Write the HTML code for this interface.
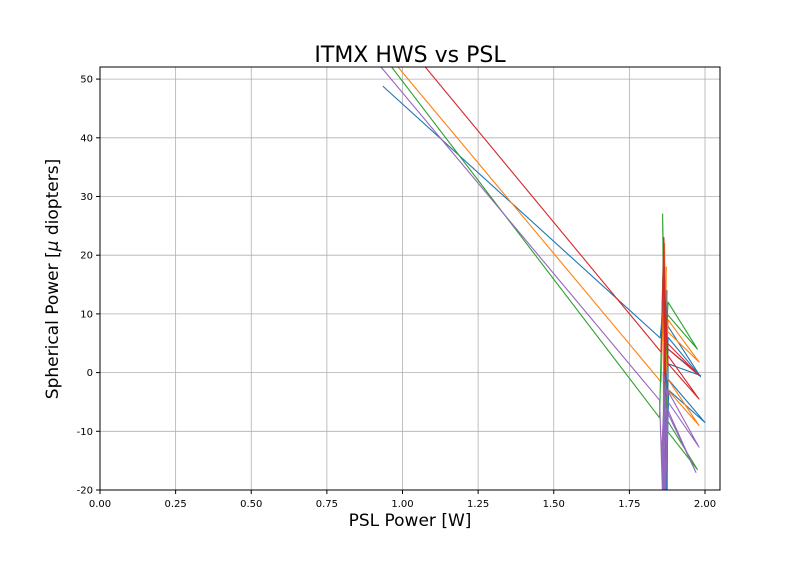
<!DOCTYPE html>
<html><head><meta charset="utf-8"><style>
body{margin:0;background:#fff;font-family:"Liberation Sans","DejaVu Sans",sans-serif}
svg text{font-family:"DejaVu Sans","Liberation Sans",sans-serif}
</style></head><body>
<svg width="800" height="560" id="c">
<rect width="800" height="560" fill="#fff"/>
<defs><clipPath id="pa"><rect x="100" y="67" width="620" height="423"/></clipPath></defs>
<g id="grid"></g>
<g id="series" clip-path="url(#pa)"></g>
<rect x="100" y="67" width="620" height="423" fill="none" stroke="#000" stroke-width="1"/>
<g id="ticks"></g>
<text x="410" y="62" font-size="22" text-anchor="middle">ITMX HWS vs PSL</text>
<text x="410" y="526" font-size="17" text-anchor="middle">PSL Power [W]</text>
<text transform="translate(58,279) rotate(-90)" font-size="17" text-anchor="middle">Spherical Power [<tspan font-style="italic">μ</tspan> diopters]</text>
</svg>
<script>
const xTicks=[0,0.25,0.5,0.75,1.0,1.25,1.5,1.75,2.0];
const xTickLabels=["0.00","0.25","0.50","0.75","1.00","1.25","1.50","1.75","2.00"];
const yTicks=[-20,-10,0,10,20,30,40,50];
const colors=["#1f77b4","#ff7f0e","#2ca02c","#d62728","#9467bd"];
const blueX=[0.935,1.852,1.868,1.872,1.866,1.874,1.878,1.985,1.878,1.87,1.874,1.868,1.876,1.985,1.878,1.872,1.876,1.87,1.88,2.0,1.876,1.872,1.874,1.87];
const blueY=[48.8,5.9,15,-10,12,-25,1.5,-0.5,4,-5,14,-22,8,-0.7,6,-15,10,-25,-3,-8.5,-1,-25,5,-18];
const orangeX=[0.97,1.855,1.864,1.87,1.866,1.872,1.878,1.98,1.876,1.866,1.872,1.864,1.878,1.98,1.876,1.868,1.866];
const orangeY=[53,-1.6,15,-6,22,2,9,1.8,7,-4,18,-10,-3,-9,-1,8,-12];
const greenX=[0.95,1.85,1.862,1.866,1.86,1.868,1.878,1.975,1.874,1.862,1.866,1.86,1.876,1.975,1.874,1.866,1.864];
const greenY=[53,-7.7,20,-5,27,3,12,4,10,-15,18,-25,-10,-16.5,-8,5,-25];
const redX=[1.06,1.855,1.864,1.87,1.866,1.872,1.878,1.98,1.876,1.864,1.868,1.862,1.878,1.98,1.876,1.868,1.866];
const redY=[53,3.5,23,-4,16,6,4,-0.5,5,14,-6,20,1.5,-4.5,3,10,-2];
const purpleX=[0.93,1.85,1.862,1.868,1.858,1.866,1.878,1.97,1.874,1.86,1.866,1.862,1.878,1.98,1.876,1.868,1.864,1.866];
const purpleY=[52,-4.7,-25,-2,-12,-25,-7,-17,-6,-10,-25,0,-5,-12.7,-3,-20,-8,-25];
const allX=[blueX,orangeX,greenX,redX,purpleX];
const allY=[blueY,orangeY,greenY,redY,purpleY];
const names=["series-blue","series-orange","series-green","series-red","series-purple"];
const X=v=>100+v*302.5, Y=v=>372.6-v*5.87;
const ns="http://www.w3.org/2000/svg";
const grid=document.getElementById('grid'),ticks=document.getElementById('ticks'),ser=document.getElementById('series');
function mk(t,a,p){const e=document.createElementNS(ns,t);for(const k in a)e.setAttribute(k,a[k]);p.appendChild(e);return e;}
xTicks.forEach((v,i)=>{
 const g=mk('line',{x1:X(v),x2:X(v),y1:67,y2:490,stroke:'#b0b0b0','stroke-width':0.8},grid);
 
 
 mk('line',{x1:X(v),x2:X(v),y1:490,y2:494,stroke:'#000'},ticks);
 const t=mk('text',{x:X(v),y:507,'font-size':10,'text-anchor':'middle'},ticks);t.textContent=xTickLabels[i];
 
 
});
yTicks.forEach(v=>{
 const g=mk('line',{x1:100,x2:720,y1:Y(v),y2:Y(v),stroke:'#b0b0b0','stroke-width':0.8},grid);
 
 
 mk('line',{x1:96,x2:100,y1:Y(v),y2:Y(v),stroke:'#000'},ticks);
 const t=mk('text',{x:93,y:Y(v)+3.5,'font-size':10,'text-anchor':'end'},ticks);t.textContent=v;
 
 
});
allX.forEach((xs,i)=>{
 const pts=xs.map((x,j)=>X(x).toFixed(1)+','+Y(allY[i][j]).toFixed(1)).join(' ');
 const p=mk('polyline',{points:pts,fill:'none',stroke:colors[i],'stroke-width':1.1,'stroke-linejoin':'round'},ser);
 
 
});
</script>
</body></html>
